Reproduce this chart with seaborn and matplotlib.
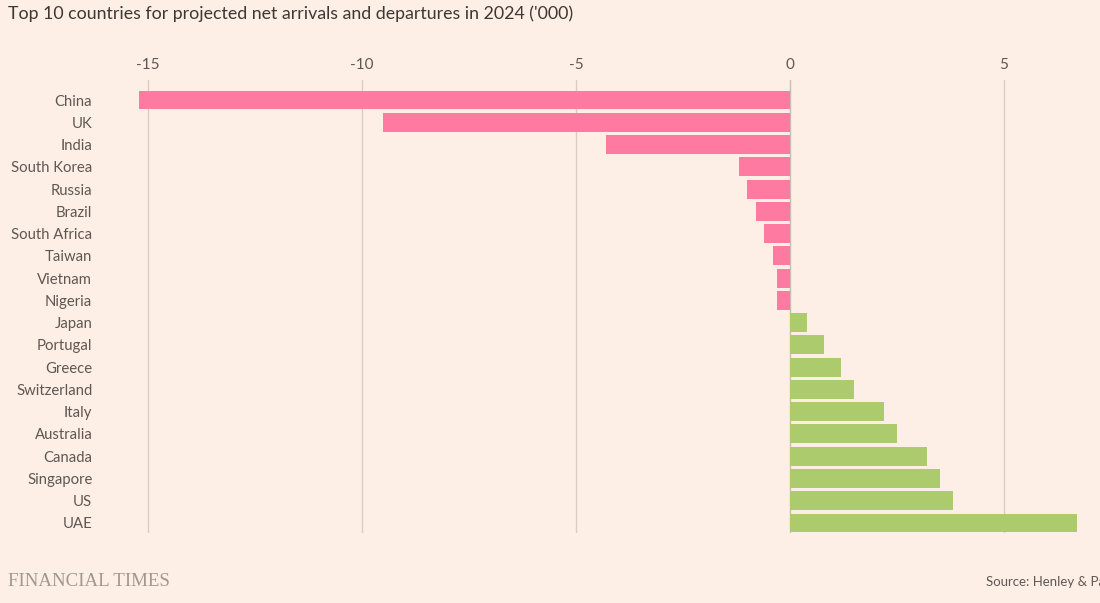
import pandas as pd
import seaborn as sns
import matplotlib.pyplot as plt

countries = ["China", "UK", "India", "South Korea", "Russia", "Brazil",
             "South Africa", "Taiwan", "Vietnam", "Nigeria", "Japan",
             "Portugal", "Greece", "Switzerland", "Italy", "Australia",
             "Canada", "Singapore", "US", "UAE"]
net_flow = [-15.2, -9.5, -4.3, -1.2, -1.0, -0.8, -0.6, -0.4, -0.3, -0.3,
            0.4, 0.8, 1.2, 1.5, 2.2, 2.5, 3.2, 3.5, 3.8, 6.7]
x_ticks = [-15, -10, -5, 0, 5]

bg = "#fdefe5"
pink = "#ff7aa0"
green = "#abcb6c"
txt = "#5f5753"

sns.set_theme(style="white", rc={"axes.facecolor": bg, "figure.facecolor": bg})
plt.rcParams["font.family"] = ["Lato", "DejaVu Sans"]

dat = pd.DataFrame({"country": countries, "value": net_flow})
dat["side"] = ["out" if v < 0 else "in" for v in dat.value]

fig = plt.figure(figsize=(11, 6.03), dpi=100)
ax = fig.add_axes([100 / 1100, 1 - 533 / 603, 1000 / 1100, 453 / 603])

# gridlines first so bars sit on top
for t in x_ticks:
    ax.axvline(t, color="#d9cdc5" if t != 0 else "#c9bcb3", lw=1, zorder=0)

sns.barplot(data=dat, y="country", x="value", hue="side",
            palette={"out": pink, "in": green}, orient="h",
            width=0.85, saturation=1, linewidth=0, legend=False, ax=ax, zorder=2)

ax.set_xlim((100 - 790) / 42.8, (1100 - 790) / 42.8)
ax.set_ylim(19.45, -0.9)
ax.set_xticks(x_ticks)
ax.set_xticklabels([str(t) for t in x_ticks])
ax.xaxis.tick_top()
ax.tick_params(axis="x", length=0, pad=6, labelsize=11, colors=txt)
ax.tick_params(axis="y", length=0, pad=5.5, labelsize=10.7, colors=txt)
ax.set_xlabel("")
ax.set_ylabel("")
sns.despine(ax=ax, left=True, bottom=True, top=True, right=True)

fig.text(8 / 1100, 1 - 14 / 603, "Top 10 countries for projected net arrivals and departures in 2024 ('000)",
         fontsize=12.8, color="#3d3733", va="center", ha="left")
fig.text(8 / 1100, 1 - 581 / 603, "FINANCIAL TIMES", fontsize=13.6, color="#a09890",
         family=["Liberation Serif", "DejaVu Serif"], va="center", ha="left")
# the reference crops this line at the right edge
fig.text(986 / 1100, 1 - 582 / 603, "Source: Henley & Partners", fontsize=9.5,
         color="#5f5753", va="center", ha="left")

fig.savefig("out.png", dpi=100, facecolor=bg)
